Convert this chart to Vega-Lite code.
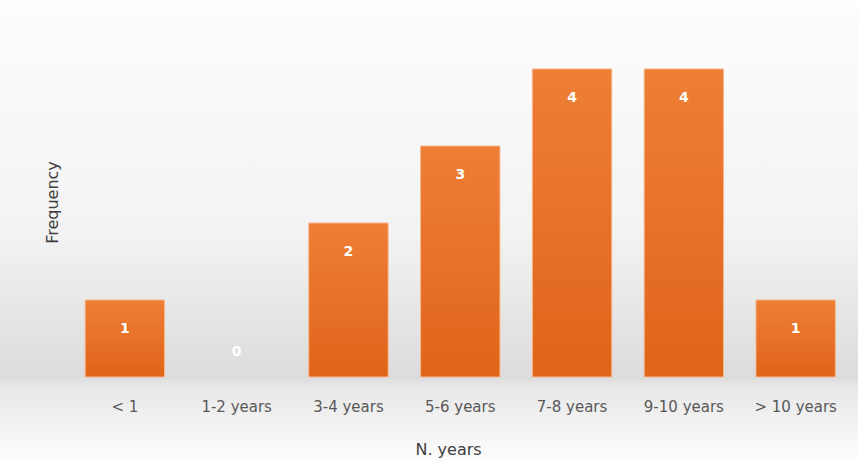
{
  "$schema": "https://vega.github.io/schema/vega-lite/v6.json",
  "autosize": {"type": "none"},
  "width": 858,
  "height": 461,
  "padding": 0,
  "background": "#fbfbfb",
  "config": {
    "view": {"stroke": null, "fill": {"gradient": "linear", "x1": 0, "y1": 0, "x2": 0, "y2": 1, "stops": [{"offset": 0, "color": "#fdfdfd"}, {"offset": 0.5, "color": "#f3f3f3"}, {"offset": 0.818, "color": "#dcdcdc"}, {"offset": 0.84, "color": "#e8e8e8"}, {"offset": 1, "color": "#fdfdfd"}]}},
    "font": "DejaVu Sans"
  },
  "data": {"values": [
    {"cat": "< 1", "freq": 1},
    {"cat": "1-2 years", "freq": 0},
    {"cat": "3-4 years", "freq": 2},
    {"cat": "5-6 years", "freq": 3},
    {"cat": "7-8 years", "freq": 4},
    {"cat": "9-10 years", "freq": 4},
    {"cat": "> 10 years", "freq": 1}
  ]},
  "encoding": {
    "x": {"field": "cat", "type": "nominal", "sort": ["< 1", "1-2 years", "3-4 years", "5-6 years", "7-8 years", "9-10 years", "> 10 years"],
      "scale": {"paddingInner": 0.29, "paddingOuter": 0.482, "align": 0.79},
      "axis": {"title": "N. years", "labelAngle": 0, "domain": false, "ticks": false, "offset": -84, "labelPadding": 22, "labelFontSize": 15, "labelColor": "#595959", "labelFont": "DejaVu Sans", "titleFontSize": 16, "titleFontWeight": "normal", "titleColor": "#404040", "titleX": 448, "titleY": 72, "titleBaseline": "middle", "titleFont": "DejaVu Sans"}},
    "y": {"field": "freq", "type": "quantitative", "scale": {"domain": [-1.091, 4.896], "nice": false, "zero": false},
      "axis": {"title": "Frequency", "labels": false, "ticks": false, "domain": false, "grid": false, "titleFontSize": 16, "titleFontWeight": "normal", "titleColor": "#404040", "titleX": 52, "titleY": 202, "titleBaseline": "middle", "titleFont": "DejaVu Sans"}}
  },
  "layer": [
    {"transform": [{"filter": "datum.freq > 0"}],
      "mark": {"type": "bar", "stroke": "#f6b88e", "strokeWidth": 1,
      "fill": {"gradient": "linear", "x1": 0, "y1": 0, "x2": 0, "y2": 1, "stops": [{"offset": 0, "color": "#ee7f35"}, {"offset": 1, "color": "#e0641a"}]}},
      "encoding": {"y2": {"datum": 0}}},
    {"transform": [{"filter": "datum.freq > 0"}],
      "mark": {"type": "text", "color": "white", "fontWeight": "bold", "fontSize": 14, "dy": 29, "font": "DejaVu Sans"},
      "encoding": {"text": {"field": "freq"}}},
    {"transform": [{"filter": "datum.freq == 0"}],
      "mark": {"type": "text", "color": "white", "fontWeight": "bold", "fontSize": 14, "dy": -25, "font": "DejaVu Sans"},
      "encoding": {"text": {"field": "freq"}}}
  ]
}
